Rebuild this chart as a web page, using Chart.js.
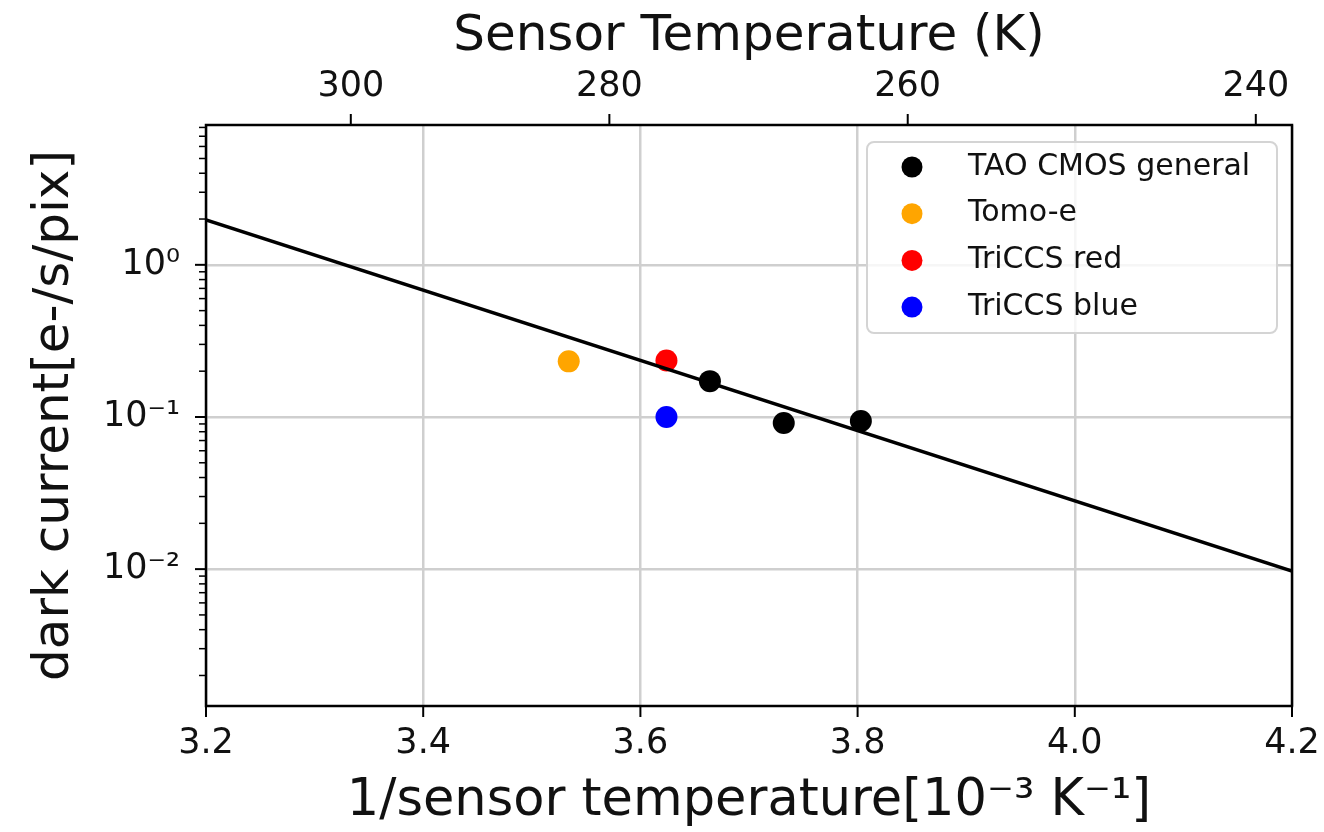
<!DOCTYPE html>
<html><head><meta charset="utf-8">
<script src="https://cdn.jsdelivr.net/npm/chart.js@4.4.1/dist/chart.umd.min.js"></script>
<style>html,body{margin:0;padding:0;background:#fff;}#wrap{width:1324px;height:832px;}</style>
</head><body><div id="wrap"><canvas id="c" width="1324" height="832"></canvas></div>
<script>
// ---- data ----
const seriesLabels = ['TAO CMOS general', 'Tomo-e', 'TriCCS red', 'TriCCS blue'];
const seriesColors = ['#000000', '#ffa500', '#ff0000', '#0000ff'];
const taoX = [3.664, 3.732, 3.803];
const taoY = [0.172, 0.0914, 0.094];
const tomoX = [3.534];
const tomoY = [0.232];
const triccsRedX = [3.624];
const triccsRedY = [0.235];
const triccsBlueX = [3.624];
const triccsBlueY = [0.100];
const fitX = [3.2, 4.2];
const fitY = [1.97, 0.0097];
const xTickValues = [3.2, 3.4, 3.6, 3.8, 4.0, 4.2];
const topTempTicks = [300, 280, 260, 240];
const yMajorTicks = [0.01, 0.1, 1];
const yTickLabels = ['10\u207B\u00B2', '10\u207B\u00B9', '10\u2070'];
const xTitle = '1/sensor temperature[10\u207B\u00B3 K\u207B\u00B9]';
const yTitle = 'dark current[e-/s/pix]';
const topTitle = 'Sensor Temperature (K)';

const FONT = "'DejaVu Sans', sans-serif";
const zip = (xs, ys) => xs.map((x, i) => ({x: x, y: ys[i]}));
const pointSets = [[taoX, taoY], [tomoX, tomoY], [triccsRedX, triccsRedY], [triccsBlueX, triccsBlueY]];

const datasets = [{
  label: 'fit', data: zip(fitX, fitY), showLine: true, borderColor: '#000', borderWidth: 3.5,
  pointRadius: 0, fill: false, order: 0, isFit: true
}];
pointSets.forEach((s, i) => datasets.push({
  label: seriesLabels[i], data: zip(s[0], s[1]), backgroundColor: seriesColors[i],
  borderColor: seriesColors[i], borderWidth: 0, pointRadius: 11, pointHoverRadius: 11, order: 1
}));

const noSidePad = s => { s.paddingLeft = 0; s.paddingRight = 0; };

const framePlugin = {
  id: 'frame',
  afterDatasetsDraw(chart) {
    const {ctx, chartArea: a, scales} = chart;
    ctx.save();
    ctx.strokeStyle = '#000';
    const seg = (x1, y1, x2, y2, w) => { ctx.lineWidth = w; ctx.beginPath(); ctx.moveTo(x1, y1); ctx.lineTo(x2, y2); ctx.stroke(); };
    const ys = scales.y;
    const e0 = Math.floor(Math.log10(ys.min)), e1 = Math.ceil(Math.log10(ys.max));
    for (let e = e0; e <= e1; e++) {
      for (let k = 1; k < 10; k++) {
        const v = k * Math.pow(10, e);
        if (v < ys.min || v > ys.max) continue;
        const py = ys.getPixelForValue(v);
        seg(a.left - (k === 1 ? 11 : 7), py, a.left, py, k === 1 ? 2 : 1.5);
      }
    }
    scales.x.ticks.forEach(t => { const px = scales.x.getPixelForValue(t.value); seg(px, a.bottom, px, a.bottom + 11, 2); });
    scales.xTop.ticks.forEach(t => { const px = scales.xTop.getPixelForValue(t.value); seg(px, a.top - 11, px, a.top, 2); });
    ctx.lineWidth = 2.5;
    ctx.strokeRect(a.left, a.top, a.right - a.left, a.bottom - a.top);

    // legend
    const items = chart.data.datasets.filter(d => !d.isFit);
    const w = 410, h = 191;
    const bx = a.right - 15 - w, by = a.top + 17;
    ctx.beginPath();
    ctx.roundRect(bx, by, w, h, 7);
    ctx.fillStyle = 'rgba(255,255,255,0.8)';
    ctx.fill();
    ctx.lineWidth = 2;
    ctx.strokeStyle = '#d4d4d4';
    ctx.stroke();
    ctx.font = '30px ' + FONT;
    ctx.textBaseline = 'middle';
    ctx.textAlign = 'left';
    items.forEach((d, i) => {
      const cy = by + 25 + i * 46.7;
      ctx.beginPath();
      ctx.arc(bx + 45, cy, 10.5, 0, Math.PI * 2);
      ctx.fillStyle = d.backgroundColor;
      ctx.fill();
      ctx.fillStyle = '#111';
      ctx.fillText(d.label, bx + 101, cy);
    });
    ctx.restore();
  }
};

new Chart(document.getElementById('c'), {
  type: 'scatter',
  data: {datasets: datasets},
  options: {
    responsive: false, animation: false, devicePixelRatio: 1,
    layout: {padding: {left: 0, right: 32, top: 0, bottom: 0}},
    plugins: {legend: {display: false}, tooltip: {enabled: false}},
    events: [],
    scales: {
      x: {
        type: 'linear', position: 'bottom', min: 3.2, max: 4.2,
        afterBuildTicks: s => { s.ticks = xTickValues.map(v => ({value: v})); },
        afterFit: s => { s.height = 126; noSidePad(s); },
        ticks: {callback: v => Number(v).toFixed(1), font: {family: FONT, size: 35}, color: '#111', padding: 17, maxRotation: 0, autoSkip: false},
        grid: {color: '#cfcfcf', lineWidth: 2.5, drawTicks: false},
        border: {display: false},
        title: {display: true, text: xTitle, font: {family: FONT, size: 51}, color: '#111', padding: {top: 0, bottom: 0}}
      },
      xTop: {
        type: 'linear', position: 'top', min: 3.2, max: 4.2,
        afterBuildTicks: s => { s.ticks = topTempTicks.map(t => ({value: 1000 / t})); },
        afterFit: s => { s.height = 125; noSidePad(s); },
        ticks: {callback: v => String(Math.round(1000 / v)), font: {family: FONT, size: 35}, color: '#111', padding: 17, maxRotation: 0, autoSkip: false},
        grid: {display: false, drawTicks: false},
        border: {display: false},
        title: {display: true, text: topTitle, font: {family: FONT, size: 50}, color: '#111', padding: {top: 7, bottom: 0}}
      },
      y: {
        type: 'logarithmic', position: 'left', min: 0.00126, max: 8.3,
        afterBuildTicks: s => { s.ticks = yMajorTicks.map(v => ({value: v, major: true})); },
        afterFit: s => { s.width = 206; s.paddingTop = 0; s.paddingBottom = 0; },
        ticks: {callback: v => { const i = yMajorTicks.findIndex(m => Math.abs(m - v) / m < 1e-6); return i >= 0 ? yTickLabels[i] : ''; },
                font: {family: FONT, size: 35}, color: '#111', padding: 26, autoSkip: false},
        grid: {color: '#cfcfcf', lineWidth: 2.5, drawTicks: false},
        border: {display: false},
        title: {display: true, text: yTitle, font: {family: FONT, size: 50}, color: '#111', padding: {top: 25, bottom: 0}}
      }
    }
  },
  plugins: [framePlugin]
});
</script></body></html>
